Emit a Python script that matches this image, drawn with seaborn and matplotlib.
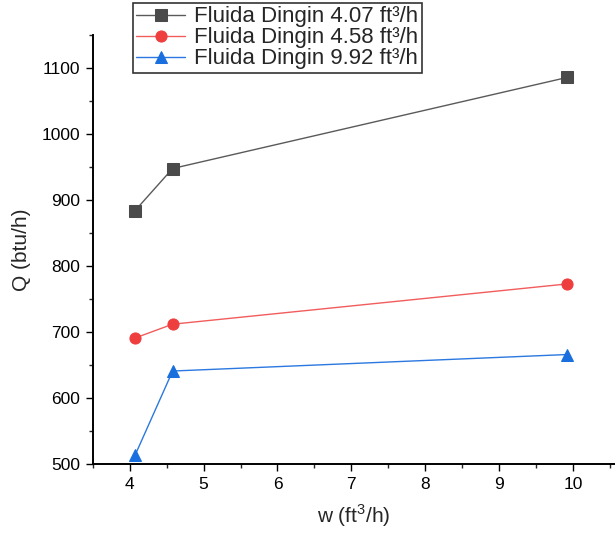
import matplotlib
matplotlib.use("Agg")
import matplotlib.pyplot as plt
import seaborn as sns
import pandas as pd
from matplotlib.ticker import MultipleLocator

sns.set_style("ticks")
plt.rcParams['font.family'] = ['Liberation Sans', 'DejaVu Sans']
plt.rcParams['mathtext.fontset'] = 'custom'
plt.rcParams['mathtext.rm'] = 'Liberation Sans'

w = [4.07, 4.58, 9.92]
q_407 = [884, 948, 1086]
q_458 = [691, 712, 773]
q_992 = [513, 641, 666]
labels = ["Fluida Dingin 4.07 ft³/h", "Fluida Dingin 4.58 ft³/h", "Fluida Dingin 9.92 ft³/h"]

series = [q_407, q_458, q_992]
line_colors = ["#5a5a5a", "#f25c5c", "#2a78e0"]
marker_colors = ["#4a4a4a", "#ef3e3e", "#1a6fde"]
markers = ["s", "o", "^"]

fig = plt.figure(figsize=(6.15, 5.34), dpi=100)
ax = fig.add_axes([0.151, 0.131, 0.849, 0.803])

for q, lab, lc, mc, m in zip(series, labels, line_colors, marker_colors, markers):
    df = pd.DataFrame({"w": w, "Q": q})
    sns.lineplot(data=df, x="w", y="Q", ax=ax, color=lc, linewidth=1.0,
                 marker=m, markersize=8, markerfacecolor=mc, markeredgecolor=mc,
                 label=lab)

ax.set_xlim(3.5, 10.57)
ax.set_ylim(500, 1150)
ax.xaxis.set_major_locator(MultipleLocator(1))
ax.xaxis.set_minor_locator(MultipleLocator(0.5))
ax.yaxis.set_major_locator(MultipleLocator(100))
ax.yaxis.set_minor_locator(MultipleLocator(50))
ax.tick_params(which="major", direction="out", length=5, width=1.0, labelsize=12.5,
               colors="black", pad=4)
ax.tick_params(which="minor", direction="out", length=3, width=1.0)
for s in ["left", "bottom"]:
    ax.spines[s].set_linewidth(1.4)
    ax.spines[s].set_color("black")
sns.despine(ax=ax)

ax.set_xlabel("w (ft$^3$/h)", fontsize=15, labelpad=8)
ax.set_ylabel("Q (btu/h)", fontsize=15, labelpad=8)

leg = ax.legend(loc="upper left", bbox_to_anchor=(133 / 615, 1 - 3 / 534),
                bbox_transform=fig.transFigure, fontsize=16, frameon=True,
                fancybox=False, edgecolor="black", borderpad=0.15,
                handlelength=2.2, handletextpad=0.4, labelspacing=0.0,
                borderaxespad=0)
leg.get_frame().set_linewidth(1.2)

fig.savefig("out.png", dpi=100)
